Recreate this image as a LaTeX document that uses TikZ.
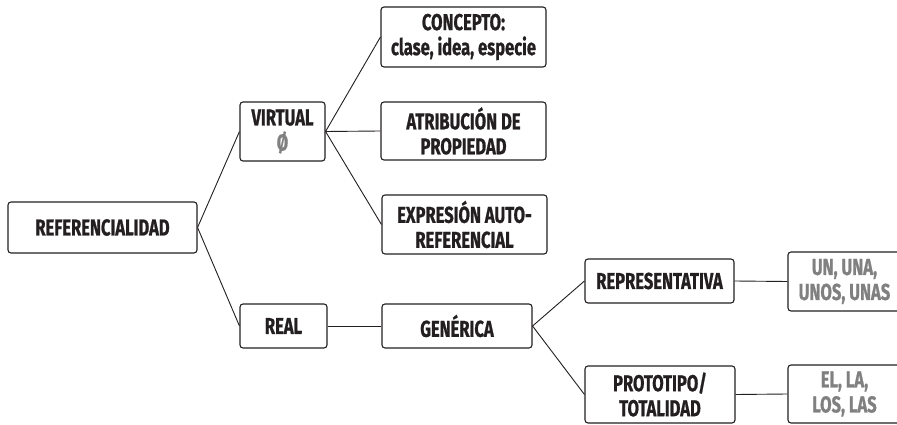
\documentclass[tikz,border=0pt]{standalone}
\usepackage{fontspec}
\setmainfont[FakeStretch=0.72,BoldFeatures={FakeBold=0.8}]{Fira Sans}
\definecolor{ink}{HTML}{231F20}
\definecolor{greytxt}{HTML}{808080}
\begin{document}
\begin{tikzpicture}[x=1pt,y=-1pt,
  box/.style={draw=ink, line width=1.1pt, rounded corners=3pt, inner sep=0pt,
    align=center, text=ink, font=\fontsize{23}{25}\selectfont\bfseries},
  grey/.style={text=greytxt},
  link/.style={draw=ink, line width=0.9pt}]
\clip (0,0) rectangle (897,425);
\fill[white] (0,0) rectangle (897,425);
\node[box, minimum width=189pt, minimum height=51pt] (ref) at (102.5,227.5) {REFERENCIALIDAD};
\node[box, minimum width=85pt, minimum height=59pt] (virt) at (282.5,131.5) {VIRTUAL\\{\color{greytxt}Ø}};
\node[box, minimum width=165pt, minimum height=60pt] (conc) at (463.5,37) {CONCEPTO:\\clase, idea, especie};
\node[box, minimum width=165pt, minimum height=58pt] (atr) at (463.5,131) {ATRIBUCIÓN DE\\PROPIEDAD};
\node[box, minimum width=165pt, minimum height=59pt] (exp) at (464.5,224.5) {EXPRESIÓN AUTO-\\REFERENCIAL};
\node[box, minimum width=87pt, minimum height=44pt] (real) at (283.5,326) {REAL};
\node[box, minimum width=150pt, minimum height=44pt] (gen) at (457,326) {GENÉRICA};
\node[box, minimum width=149pt, minimum height=44pt] (rep) at (659.5,281) {REPRESENTATIVA};
\node[box, grey, minimum width=113pt, minimum height=59pt] (un) at (844.5,281.5) {UN, UNA,\\UNOS, UNAS};
\node[box, minimum width=150pt, minimum height=57pt] (proto) at (660,394.5) {PROTOTIPO/\\TOTALIDAD};
\node[box, grey, minimum width=113pt, minimum height=58pt] (el) at (844.5,394) {EL, LA,\\LOS, LAS};
\draw[link] (ref.east) -- (virt.west);
\draw[link] (ref.east) -- (real.west);
\draw[link] (virt.east) -- (conc.west);
\draw[link] (virt.east) -- (atr.west);
\draw[link] (virt.east) -- (exp.west);
\draw[link] (real.east) -- (gen.west);
\draw[link] (gen.east) -- (rep.west);
\draw[link] (gen.east) -- (proto.west);
\draw[link] (rep.east) -- (un.west);
\draw[link] (proto.east) -- (el.west);
\end{tikzpicture}
\end{document}
